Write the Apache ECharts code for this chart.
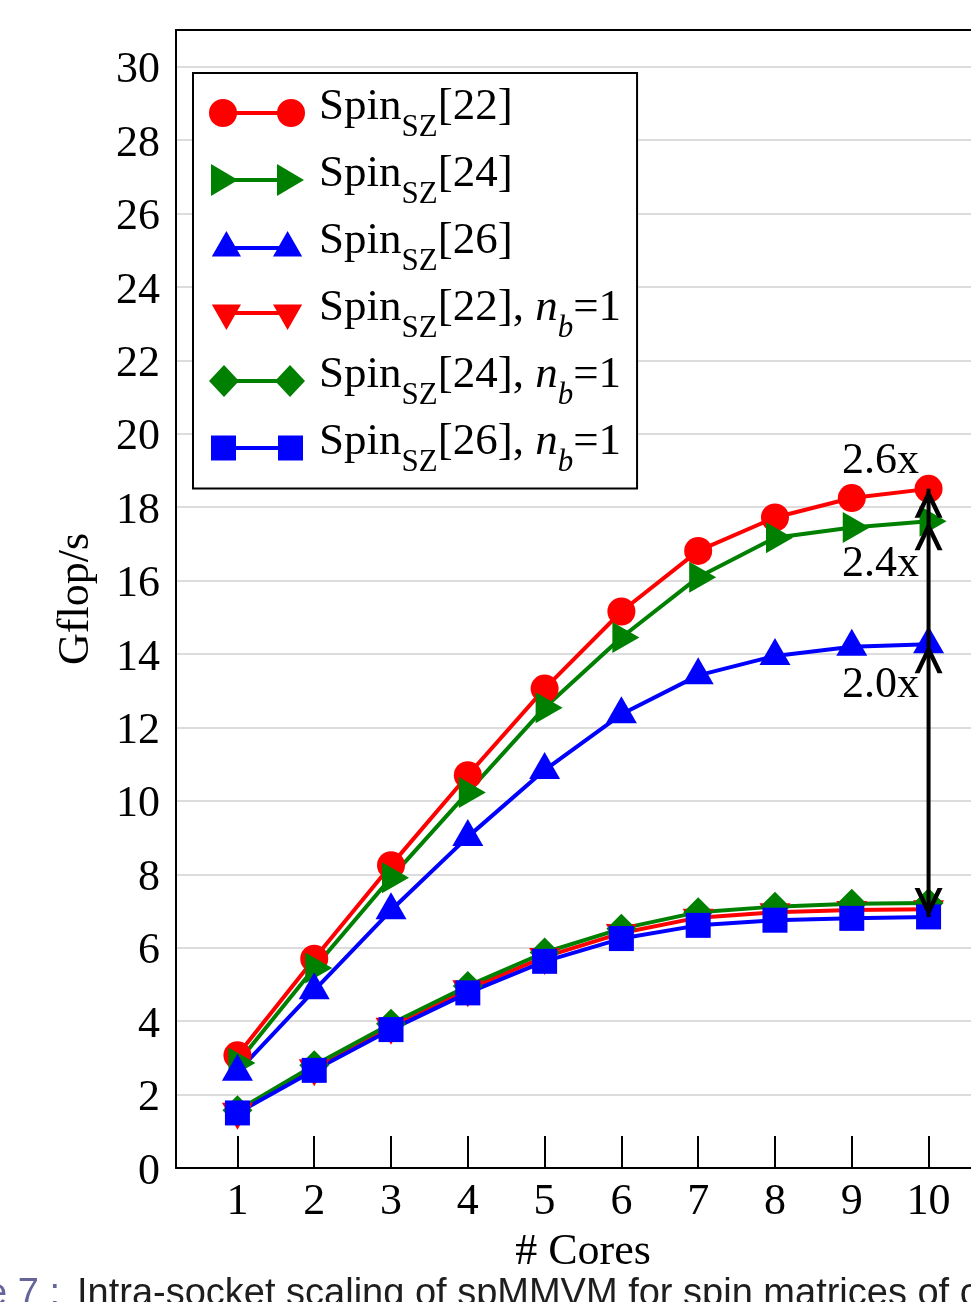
<!DOCTYPE html>
<html>
<head>
<meta charset="utf-8">
<script src="https://cdn.jsdelivr.net/npm/echarts@6/dist/echarts.min.js"></script>
<style>
  html, body { margin: 0; padding: 0; background: #ffffff; }
  #chart { width: 971px; height: 1302px; }
</style>
</head>
<body>
<div id="chart"></div>
<script>
// ---------------- data ----------------
const cores = [1, 2, 3, 4, 5, 6, 7, 8, 9, 10];
const xTicks = [1, 2, 3, 4, 5, 6, 7, 8, 9, 10];
const spin22 = [3.07, 5.70, 8.25, 10.70, 13.06, 15.16, 16.81, 17.72, 18.25, 18.50];
const spin24 = [2.86, 5.45, 7.91, 10.23, 12.54, 14.45, 16.09, 17.17, 17.45, 17.62];
const spin26 = [2.62, 4.84, 7.02, 9.02, 10.84, 12.36, 13.42, 13.95, 14.20, 14.27];
const spin22nb1 = [1.53, 2.72, 3.85, 4.87, 5.75, 6.40, 6.82, 6.97, 7.03, 7.05];
const spin24nb1 = [1.57, 2.80, 3.93, 4.96, 5.87, 6.52, 6.97, 7.12, 7.20, 7.22];
const spin26nb1 = [1.50, 2.66, 3.77, 4.77, 5.63, 6.25, 6.61, 6.75, 6.80, 6.84];
const seriesNames = ['Spin22', 'Spin24', 'Spin26', 'Spin22nb1', 'Spin24nb1', 'Spin26nb1'];
const legendLabels = [
  '{m|Spin}{s|SZ}{m|[22]}',
  '{m|Spin}{s|SZ}{m|[24]}',
  '{m|Spin}{s|SZ}{m|[26]}',
  '{m|Spin}{s|SZ}{m|[22], }{i|n}{is|b}{m|=1}',
  '{m|Spin}{s|SZ}{m|[24], }{i|n}{is|b}{m|=1}',
  '{m|Spin}{s|SZ}{m|[26], }{i|n}{is|b}{m|=1}'
];
const speedupTexts = ['2.6x', '2.4x', '2.0x'];
const yTitle = 'Gflop/s';
const xTitle = '# Cores';
const captionPrefix = 'e 7 :';
const captionText = 'Intra-socket scaling of spMMVM for spin matrices of c';

// ---------------- styles ----------------
const SERIF = '"Liberation Serif", "Times New Roman", serif';
const RED = '#ff0000', GREEN = '#008000', BLUE = '#0000ff';
const colors = [RED, GREEN, BLUE, RED, GREEN, BLUE];
const seriesValues = [spin22, spin24, spin26, spin22nb1, spin24nb1, spin26nb1];
const symbols = [
  { symbol: 'circle', symbolSize: 28, symbolRotate: 0, symbolOffset: [0, 0] },
  { symbol: 'triangle', symbolSize: [31, 27], symbolRotate: -90, symbolOffset: [4.5, 0] },
  { symbol: 'triangle', symbolSize: [31, 27], symbolRotate: 0, symbolOffset: [0, -4.5] },
  { symbol: 'triangle', symbolSize: [31, 27], symbolRotate: 180, symbolOffset: [0, 4.5] },
  { symbol: 'diamond', symbolSize: [30, 30], symbolRotate: 0, symbolOffset: [0, 0] },
  { symbol: 'rect', symbolSize: 25, symbolRotate: 0, symbolOffset: [0, 0] }
];
const legendIcons = [
  'path://M0,0 M96,32 M0,16 A14,14 0 1,1 28,16 A14,14 0 1,1 0,16 Z M68,16 A14,14 0 1,1 96,16 A14,14 0 1,1 68,16 Z M27,13.9 L69,13.9 L69,18.1 L27,18.1 Z',
  'path://M0,0 M96,32 M2,0 L29,16 L2,32 Z M68,0 L95,16 L68,32 Z M16,13.9 L82,13.9 L82,18.1 L16,18.1 Z',
  'path://M0,2 M96,34 M15.5,0 L31,27 L0,27 Z M80.5,0 L96,27 L65,27 Z M15.5,15.9 L80.5,15.9 L80.5,20.1 L15.5,20.1 Z',
  'path://M0,-7 M96,25 M0,0 L31,0 L15.5,27 Z M65,0 L96,0 L80.5,27 Z M15.5,6.9 L80.5,6.9 L80.5,11.1 L15.5,11.1 Z',
  'path://M0,0 M96,32 M15,0 L30,16 L15,32 L0,16 Z M81,0 L96,16 L81,32 L66,16 Z M15,13.9 L81,13.9 L81,18.1 L15,18.1 Z',
  'path://M0,0 M96,32 M2,3.5 L27,3.5 L27,28.5 L2,28.5 Z M69,3.5 L94,3.5 L94,28.5 L69,28.5 Z M14.5,13.9 L81.5,13.9 L81.5,18.1 L14.5,18.1 Z'
];
const chevronUp = 'path://M14,0 L28,27 L23,27 L14,9.5 L5,27 L0,27 Z';
const chevronDown = 'path://M0,0 L5,0 L14,17.5 L23,0 L28,0 L14,27 Z';
const speedupLabelOffsets = [[0, -27], [0, 43], [0, 41]];

const dataSeries = seriesNames.map((name, k) => ({
  name: name,
  type: 'line',
  data: cores.map((c, i) => [c, seriesValues[k][i]]),
  symbol: symbols[k].symbol,
  symbolSize: symbols[k].symbolSize,
  symbolRotate: symbols[k].symbolRotate,
  symbolOffset: symbols[k].symbolOffset,
  showAllSymbol: true,
  lineStyle: { color: colors[k], width: 4 },
  itemStyle: { color: colors[k], borderWidth: 0, opacity: 1 },
  emphasis: { disabled: true },
  z: 3
}));

const last = cores.length - 1;
const arrowTops = [spin22[last], spin24[last], spin26[last]];
const arrowBottom = spin26nb1[last];

const arrowSeries = [
  {
    name: 'arrowLine', type: 'line',
    data: [[cores[last], arrowBottom], [cores[last], arrowTops[0]]],
    symbol: 'none',
    lineStyle: { color: '#000', width: 4 },
    silent: true, z: 5
  },
  {
    name: 'arrowUp', type: 'scatter',
    data: arrowTops.map(v => [cores[last], v]),
    symbol: chevronUp, symbolSize: [28, 29], symbolOffset: [0, '50%'],
    itemStyle: { color: '#000', opacity: 1 },
    silent: true, z: 6
  },
  {
    name: 'arrowDown', type: 'scatter',
    data: [[cores[last], arrowBottom]],
    symbol: chevronDown, symbolSize: [28, 29], symbolOffset: [0, '-50%'],
    itemStyle: { color: '#000', opacity: 1 },
    silent: true, z: 6
  },
  {
    name: 'speedups', type: 'scatter',
    data: arrowTops.map((v, i) => ({
      value: [cores[last], v],
      label: {
        show: true, formatter: speedupTexts[i], position: 'left', distance: 9,
        offset: speedupLabelOffsets[i],
        fontFamily: SERIF, fontSize: 44, color: '#000'
      }
    })),
    symbolSize: 1,
    itemStyle: { color: 'rgba(0,0,0,0)', opacity: 1 },
    silent: true, z: 7
  }
];

const subPad = 27;
const option = {
  animation: false,
  backgroundColor: '#ffffff',
  grid: { left: 176, right: -19, top: 30, bottom: 134, outerBoundsMode: 'none', containLabel: false },
  xAxis: [
    {
      type: 'value', min: 0.2, max: 10.8, position: 'bottom',
      axisLine: { show: true, onZero: false, lineStyle: { color: '#000', width: 2 } },
      axisTick: { show: true, inside: true, length: 32, customValues: xTicks, lineStyle: { color: '#000', width: 2 } },
      axisLabel: { show: true, customValues: xTicks, margin: 12, fontFamily: SERIF, fontSize: 44, color: '#000' },
      splitLine: { show: false },
      name: xTitle, nameLocation: 'middle', nameGap: 62,
      nameTextStyle: { fontFamily: SERIF, fontSize: 44, color: '#000' }
    },
    {
      type: 'value', min: 0.2, max: 10.8, position: 'top',
      axisLine: { show: true, onZero: false, lineStyle: { color: '#000', width: 2 } },
      axisTick: { show: false }, axisLabel: { show: false }, splitLine: { show: false }
    }
  ],
  yAxis: {
    type: 'value', min: 0, max: 31, interval: 2,
    axisLine: { show: true, onZero: false, lineStyle: { color: '#000', width: 2 } },
    axisTick: { show: false },
    axisLabel: {
      margin: 16, showMaxLabel: false, color: '#000', fontFamily: SERIF, fontSize: 44,
      formatter: v => '{y|' + v + '}',
      rich: { y: { fontFamily: SERIF, fontSize: 44, lineHeight: 44, color: '#000', padding: [8, 0, 0, 0] } }
    },
    splitLine: { show: true, lineStyle: { color: '#dcdcdc', width: 2 } },
    name: yTitle, nameLocation: 'middle', nameGap: 78,
    nameTextStyle: { fontFamily: SERIF, fontSize: 44, color: '#000' }
  },
  legend: {
    orient: 'vertical', left: 193, top: 73,
    padding: [12, 16, 10.5, 16],
    backgroundColor: '#ffffff',
    borderColor: '#000', borderWidth: 2, borderRadius: 0,
    itemWidth: 96, itemHeight: 32, itemGap: 9.0,
    selectedMode: false,
    itemStyle: { borderWidth: 0 },
    data: seriesNames.map((n, k) => ({ name: n, icon: legendIcons[k] })),
    formatter: name => legendLabels[seriesNames.indexOf(name)],
    textStyle: {
      color: '#000', fontFamily: SERIF, fontSize: 45, padding: [0, 0, 12, 9],
      rich: {
        m: { fontFamily: SERIF, fontSize: 45, lineHeight: 44, color: '#000', verticalAlign: 'top' },
        s: { fontFamily: SERIF, fontSize: 31, lineHeight: 30, color: '#000', verticalAlign: 'top', padding: [subPad, 0, 0, 0] },
        i: { fontFamily: SERIF, fontSize: 45, lineHeight: 44, fontStyle: 'italic', color: '#000', verticalAlign: 'top' },
        is: { fontFamily: SERIF, fontSize: 31, lineHeight: 30, fontStyle: 'italic', color: '#000', verticalAlign: 'top', padding: [subPad, 0, 0, 0] }
      }
    },
    z: 10
  },
  series: dataSeries.concat(arrowSeries),
  graphic: [
    {
      type: 'text', x: 60, y: 1276, silent: true,
      style: { text: captionPrefix, textAlign: 'right', textVerticalAlign: 'top', fontFamily: '"Liberation Sans", Arial, sans-serif', fontSize: 38, fill: '#65659a' }
    },
    {
      type: 'text', x: 77, y: 1276, silent: true,
      style: { text: captionText, textAlign: 'left', textVerticalAlign: 'top', fontFamily: '"Liberation Sans", Arial, sans-serif', fontSize: 38, fill: '#1e1e1e' }
    }
  ]
};

const chart = echarts.init(document.getElementById('chart'), null, { renderer: 'canvas' });
chart.setOption(option);
</script>
</body>
</html>
